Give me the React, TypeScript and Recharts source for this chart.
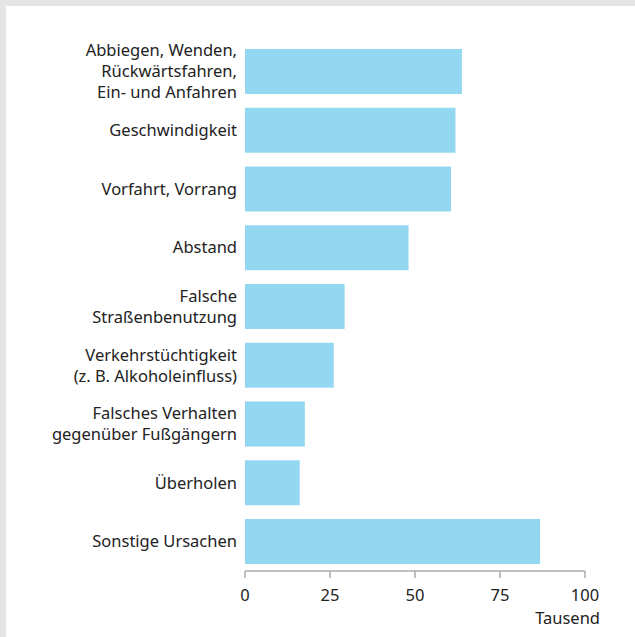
import React from 'react';
import { BarChart, Bar, XAxis, YAxis } from 'recharts';

// Unfallursachen, Werte in Tausend
const categories = [
    'Abbiegen, Wenden,\nRückwärtsfahren,\nEin- und Anfahren',
    'Geschwindigkeit',
    'Vorfahrt, Vorrang',
    'Abstand',
    'Falsche\nStraßenbenutzung',
    'Verkehrstüchtigkeit\n(z. B. Alkoholeinfluss)',
    'Falsches Verhalten\ngegenüber Fußgängern',
    'Überholen',
    'Sonstige Ursachen',
];
const values = [63.8, 61.9, 60.6, 48.1, 29.3, 26.1, 17.6, 16.1, 86.8];
const xTicks = [0, 25, 50, 75, 100];
const unitLabel = 'Tausend';

const FONT = '"Noto Sans", sans-serif';
const TEXT = '#222222';
const BAR = '#93d8f0';
const AXIS = '#ababab';

const data = categories.map((name, i) => ({ name, value: values[i] }));

const CategoryTick = ({ x, y, payload }: any) => {
    const lines = String(payload.value).split('\n');
    const lh = 21;
    const start = -((lines.length - 1) * lh) / 2;
    return (
        <text x={x} y={y} textAnchor="end" fill={TEXT} fontSize={16.5} fontFamily={FONT}>
            {lines.map((l, i) => (
                <tspan key={i} x={x} y={y + start + i * lh} dy="0.35em">{l}</tspan>
            ))}
        </text>
    );
};

const ValueTick = ({ x, y, payload }: any) => (
    <g>
        <text x={x} y={y - 1} dy="0.71em" textAnchor="middle" fill={TEXT} fontSize={16.5} fontFamily={FONT}>
            {payload.value}
        </text>
        {payload.value === 100 && (
            <text x={x + 15} y={y + 22} dy="0.71em" textAnchor="end" fill={TEXT} fontSize={16.5} fontFamily={FONT}>
                {unitLabel}
            </text>
        )}
    </g>
);

export default function App() {
    return (
        <div style={{ position: 'absolute', left: 0, top: 0, width: 635, height: 637, background: '#e5e5e5' }}>
            <div style={{ position: 'absolute', left: 6, top: 6, width: 629, height: 631, background: '#ffffff' }}>
                <BarChart
                    width={629}
                    height={631}
                    data={data}
                    layout="vertical"
                    margin={{ top: 36, right: 50, bottom: 36, left: 0 }}
                    barCategoryGap="11.7%"
                >
                    <XAxis
                        type="number"
                        domain={[0, 100]}
                        ticks={xTicks}
                        axisLine={{ stroke: AXIS, strokeWidth: 1.5 }}
                        tickLine={{ stroke: AXIS, strokeWidth: 1.5 }}
                        tickSize={7}
                        tickMargin={12}
                        height={30}
                        tick={<ValueTick />}
                        interval={0}
                    />
                    <YAxis
                        type="category"
                        dataKey="name"
                        width={239}
                        axisLine={false}
                        tickLine={false}
                        tickSize={0}
                        tickMargin={8}
                        tick={<CategoryTick />}
                        interval={0}
                    />
                    <Bar dataKey="value" fill={BAR} isAnimationActive={false} />
                </BarChart>
            </div>
        </div>
    );
}
